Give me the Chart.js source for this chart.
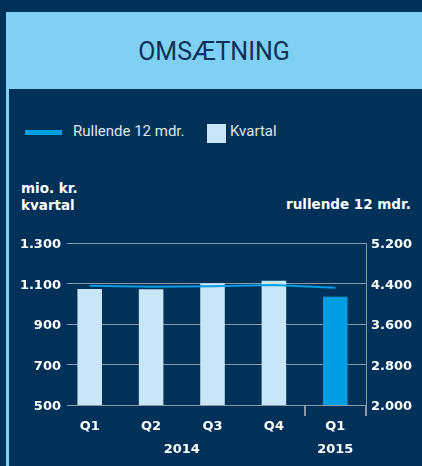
<!DOCTYPE html>
<html>
<head>
<meta charset="utf-8">
<script src="https://cdn.jsdelivr.net/npm/chart.js@4"></script>
<style>
  html, body { margin:0; padding:0; }
  body { width:422px; height:466px; background:#003159; position:relative; overflow:hidden; }
  #header { position:absolute; left:6px; top:12px; width:416px; height:77px; background:#80d0f4; }
  #title { position:absolute; left:6px; top:12px; width:416px; height:77px; line-height:80px; text-align:center;
           font-family:Roboto, sans-serif; font-size:25px; color:#0b3158; letter-spacing:0px; }
  #stripe { position:absolute; left:6px; top:89px; width:3px; height:377px; background:#80d0f4; }
  .leg { position:absolute; font-family:Roboto, sans-serif; font-size:15px; color:#dde6ef; top:122px; }
  #legLine { position:absolute; left:25px; top:130px; width:37px; height:5px; background:#009fe3; }
  #legBox { position:absolute; left:207px; top:124px; width:19px; height:19px; background:#c9e6f8; }
  .axt { position:absolute; font-family:"DejaVu Sans", sans-serif; font-weight:bold; font-size:13.5px; color:#ffffff; line-height:16.5px; }
  canvas { position:absolute; left:0; top:0; }
</style>
</head>
<body>
<div id="header"></div>
<div id="title">OMSÆTNING</div>
<div id="stripe"></div>
<div id="legLine"></div>
<div class="leg" style="left:73px;">Rullende 12 mdr.</div>
<div id="legBox"></div>
<div class="leg" style="left:230px;">Kvartal</div>
<div class="axt" style="left:21px; top:180px;">mio. kr.<br>kvartal</div>
<div class="axt" style="left:286px; top:196px;">rullende 12 mdr.</div>
<canvas id="c" width="422" height="466"></canvas>
<script>
const quarters = ['Q1', 'Q2', 'Q3', 'Q4', 'Q1'];
const quarterYears = ['2014', '2014', '2014', '2014', '2015'];
const kvartal = [1073, 1072, 1101, 1114, 1035];
const rullende = [4355, 4337, 4345, 4370, 4317];
const leftTicks = [500, 700, 900, 1100, 1300];
const rightTicks = [2000, 2800, 3600, 4400, 5200];
const barColors = ['#c9e6f8', '#c9e6f8', '#c9e6f8', '#c9e6f8', '#009fe3'];

const GRID = '#8a98a8';
const fmt = v => String(v).replace(/\B(?=(\d{3})+(?!\d))/g, '.');

// x label map: value -> [quarter line, year line]
const labelMap = new Map();
quarters.forEach((q, i) => labelMap.set(i, [q, '']));
const yearGroups = [];
quarterYears.forEach((y, i) => {
  const g = yearGroups.find(g => g.year === y);
  if (g) g.idx.push(i); else yearGroups.push({ year: y, idx: [i] });
});
yearGroups.forEach(g => {
  const c = (g.idx[0] + g.idx[g.idx.length - 1]) / 2;
  const cur = labelMap.get(c) || ['', ''];
  labelMap.set(c, [cur[0], g.year]);
});
const separators = yearGroups.slice(1).map(g => g.idx[0] - 0.5).concat([quarters.length - 0.5]);
separators.forEach(s => { if (!labelMap.has(s)) labelMap.set(s, ['', '']); });
const xTickValues = [...labelMap.keys()].sort((a, b) => a - b);

const fontBold = { family: 'DejaVu Sans', weight: 'bold', size: 13 };

new Chart(document.getElementById('c'), {
  data: {
    datasets: [
      {
        type: 'line', label: 'Rullende 12 mdr.', yAxisID: 'y2',
        data: rullende.map((v, i) => ({ x: i, y: v })),
        borderColor: '#009fe3', borderWidth: 2, pointRadius: 0, tension: 0, order: 0
      },
      {
        type: 'bar', label: 'Kvartal', yAxisID: 'y',
        data: kvartal.map((v, i) => ({ x: i, y: v })),
        backgroundColor: barColors, borderWidth: 0,
        barPercentage: 1.0, categoryPercentage: 0.8, order: 1
      }
    ]
  },
  options: {
    responsive: false, devicePixelRatio: 1, animation: false,
    layout: { padding: { top: 243, left: 0, right: 0, bottom: 0 } },
    plugins: { legend: { display: false }, tooltip: { enabled: false } },
    scales: {
      x: {
        type: 'linear', offset: false, min: -0.37, max: quarters.length - 0.5,
        afterBuildTicks: s => { s.ticks = xTickValues.map(v => ({ value: v })); },
        afterFit: s => { s.height = 61; },
        border: { display: false },
        grid: {
          offset: false, drawOnChartArea: false, drawTicks: true, tickLength: 11, lineWidth: 2,
          color: ctx => (ctx.tick && separators.includes(ctx.tick.value)) ? GRID : 'rgba(0,0,0,0)'
        },
        ticks: {
          autoSkip: false, maxRotation: 0, minRotation: 0, padding: 0,
          color: '#ffffff', font: { ...fontBold, lineHeight: 1.7 },
          callback: v => labelMap.get(v) || ''
        }
      },
      y: {
        position: 'left', min: leftTicks[0], max: leftTicks[leftTicks.length - 1],
        afterBuildTicks: s => { s.ticks = leftTicks.map(v => ({ value: v })); },
        afterFit: s => { s.width = 67; },
        border: { display: false },
        grid: { color: GRID, lineWidth: 1, drawTicks: false },
        ticks: { color: '#ffffff', font: fontBold, padding: 6, labelOffset: 2, callback: v => fmt(v) }
      },
      y2: {
        position: 'right', min: rightTicks[0], max: rightTicks[rightTicks.length - 1],
        afterBuildTicks: s => { s.ticks = rightTicks.map(v => ({ value: v })); },
        afterFit: s => { s.width = 56; },
        border: { display: true, color: GRID, width: 1 },
        grid: { drawOnChartArea: false, drawTicks: false },
        ticks: { color: '#ffffff', font: fontBold, padding: 5, labelOffset: 2, callback: v => fmt(v) }
      }
    }
  }
});
</script>
</body>
</html>
